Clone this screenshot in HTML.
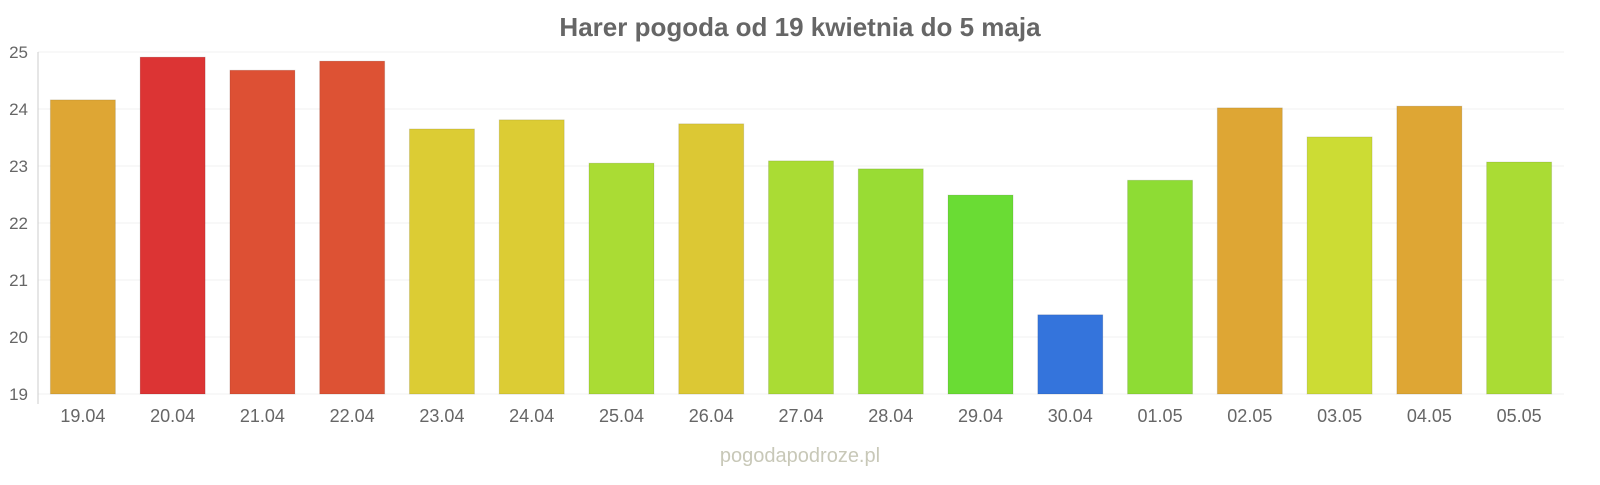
<!DOCTYPE html>
<html><head><meta charset="utf-8"><style>
body{margin:0;background:#fff;width:1600px;height:480px;overflow:hidden;font-family:"Liberation Sans",sans-serif}
</style></head><body>
<svg id="c" width="1600" height="480">
<text x="800" y="36" text-anchor="middle" font-size="26" font-weight="bold" fill="#666">Harer pogoda od 19 kwietnia do 5 maja</text>
<text x="800" y="462" text-anchor="middle" font-size="20" fill="#c8c8b8">pogodapodroze.pl</text>
</svg>
<script>
const categories=["19.04","20.04","21.04","22.04","23.04","24.04","25.04","26.04","27.04","28.04","29.04","30.04","01.05","02.05","03.05","04.05","05.05"];
const temps=[24.16,24.91,24.68,24.84,23.65,23.81,23.05,23.74,23.09,22.95,22.49,20.39,22.75,24.02,23.51,24.05,23.07];
const colors=["#dea634","#dc3434","#dd5034","#dd5234","#dccc34","#dccc34","#aadc34","#dcc834","#aadc34","#99dc34","#6adc34","#3474dc","#8edc34","#dea634","#ccdc34","#dea634","#aadc34"];
const yTicks=[19,20,21,22,23,24,25];
const svg=document.getElementById('c');const NS="http://www.w3.org/2000/svg";
const x0=38,x1=1564,yTop=52,yBot=394,vMin=19,vMax=25;
const y=v=>yBot-(v-vMin)/(vMax-vMin)*(yBot-yTop);
const slot=(x1-x0)/categories.length;
function mk(t,a){const e=document.createElementNS(NS,t);for(const k in a)e.setAttribute(k,a[k]);svg.appendChild(e);return e;}
yTicks.forEach(t=>{
 const g=mk('line',{x1:x0,x2:x1,y1:y(t),y2:y(t),stroke:'#f0f0f0','stroke-width':1});
 
 
 const l=mk('text',{x:28,y:y(t)+6,'text-anchor':'end','font-size':17,fill:'#666'});l.textContent=t;
 
 
});
const ax=mk('line',{x1:x0,x2:x0,y1:yTop,y2:yBot+10,stroke:'#ccc'});


categories.forEach((c,i)=>{
 const cx=x0+slot*(i+0.5),w=65;
 const r=mk('rect',{x:cx-w/2,y:y(temps[i]),width:w,height:yBot-y(temps[i]),fill:colors[i],stroke:'rgba(0,0,0,0.1)'});
 
 
 const t=mk('text',{x:cx,y:422,'text-anchor':'middle','font-size':18,fill:'#666'});t.textContent=c;
 
 
});
</script>
</body></html>
